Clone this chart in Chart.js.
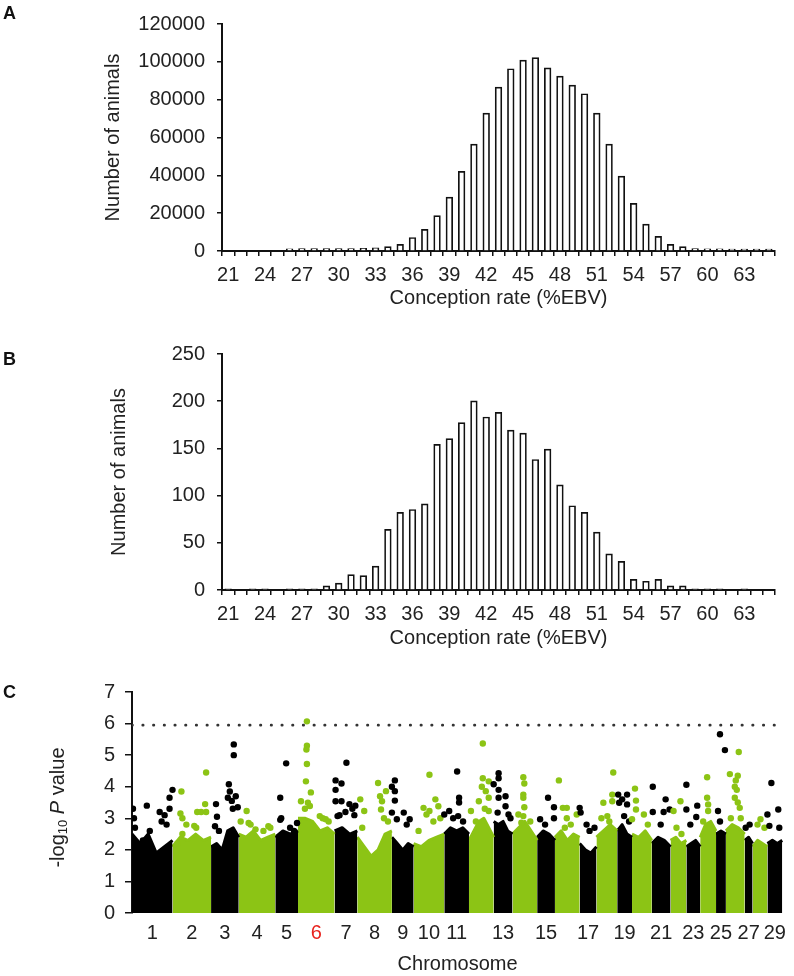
<!DOCTYPE html>
<html>
<head>
<meta charset="utf-8">
<script src="https://cdn.jsdelivr.net/npm/chart.js@4.4.1/dist/chart.umd.min.js"></script>
<style>
  body { margin: 0; background: #fff; }
  #page { position: relative; width: 794px; height: 976px; background: #fff; font-family: "Liberation Sans", Arial, sans-serif; }
  .panel { position: absolute; left: 0; width: 794px; }
  .tag { position: absolute; left: 3px; font-weight: bold; font-size: 18px; line-height: 18px; color: #111; }
</style>
</head>
<body>
<div id="page">
  <div class="panel" style="top:0;height:310px"><canvas id="chartA"></canvas></div>
  <div class="panel" style="top:330px;height:320px"><canvas id="chartB"></canvas></div>
  <div class="panel" style="top:670px;height:306px"><canvas id="chartC"></canvas></div>
  <div class="tag" style="top:4px">A</div>
  <div class="tag" style="top:350px">B</div>
  <div class="tag" style="top:683px">C</div>
</div>
<script>
// conception rate classes (%EBV)
const rateLabels = [21, 22, 23, 24, 25, 26, 27, 28, 29, 30, 31, 32, 33, 34, 35, 36, 37, 38, 39, 40,
  41, 42, 43, 44, 45, 46, 47, 48, 49, 50, 51, 52, 53, 54, 55, 56, 57, 58, 59, 60,
  61, 62, 63, 64, 65];
const rateTickLabels = [21, 24, 27, 30, 33, 36, 39, 42, 45, 48, 51, 54, 57, 60, 63];

// panel A: all animals
const herdCounts = [0, 0, 0, 0, 0, 1000, 1100, 1100, 1200, 1200, 1200, 1300, 1500, 2200, 3400, 7000, 11300, 18600, 28300, 42000,
  56400, 72800, 86500, 96200, 100800, 102100, 96700, 92300, 87600, 83000, 72800, 56400, 39500, 25000, 14100, 7600, 3400, 2200, 1200, 1000,
  1000, 900, 900, 900, 900];

// panel B: genotyped animals
const genotypedCounts = [1, 0, 1, 1, 0, 1, 1, 1, 4, 7, 16, 15, 25, 64, 82, 85, 91, 154, 160, 177,
  200, 183, 188, 169, 166, 138, 149, 111, 89, 82, 61, 38, 30, 11, 9, 11, 4, 4, 1, 1,
  1, 0, 1, 0, 0];

// panel C: manhattan plot
const chromosomes = ['1', '2', '3', '4', '5', '6', '7', '8', '9', '10', '11', '12', '13', '14', '15',
  '16', '17', '18', '19', '20', '21', '22', '23', '24', '25', '26', '27', '28', '29'];
const chromTickLabels = ['1', '2', '3', '4', '5', '6', '7', '8', '9', '10', '11', '13', '15', '17',
  '19', '21', '23', '25', '27', '29'];
const chromSpan = [41, 39, 28, 37, 23, 37, 23, 35, 22, 31, 25, 25, 19, 25, 18, 25, 17, 21, 15, 20,
  19, 16, 14, 16, 10, 19, 8, 15, 15];
// top of the dense SNP cloud along each chromosome
const chromBase = [
  [2.5, 2.2, 2.5, 1.9, 2.1, 2.3], [2.1, 2.4, 2.3, 2.5, 2.3, 2.4], [2.1, 2.2, 2.0, 2.6, 2.7, 2.4],
  [2.5, 2.4, 2.6, 2.3, 2.4, 2.5], [2.4, 2.6, 2.5, 2.6], [3.0, 3.0, 2.9, 2.6, 2.7, 2.5],
  [2.6, 2.7, 2.5, 2.6], [2.4, 2.1, 1.8, 2.0, 2.5, 2.6], [2.4, 2.2, 2.0, 2.2, 2.1],
  [2.2, 2.1, 2.3, 2.4, 2.5], [2.5, 2.7, 2.6, 2.7, 2.5], [2.3, 2.6, 2.9, 3.0, 2.7, 2.4],
  [2.9, 2.8, 2.9, 2.6, 2.5], [2.5, 2.7, 2.9, 2.6, 2.3], [2.4, 2.6, 2.5, 2.3],
  [2.4, 2.6, 2.3, 2.5, 2.4], [2.2, 2.0, 1.9, 2.1], [2.4, 2.6, 2.8, 2.6],
  [2.6, 2.8, 2.5, 2.4], [2.5, 2.4, 2.6, 2.3], [2.2, 2.4, 2.3, 2.1],
  [2.3, 2.4, 2.2, 2.3], [2.1, 2.2, 2.3, 2.1], [2.4, 2.8, 2.9, 2.6],
  [2.5, 2.6, 2.5], [2.6, 2.8, 2.7, 2.5], [2.3, 2.4, 2.2],
  [2.1, 2.3, 2.2, 2.1], [2.2, 2.3, 2.2, 2.3]
];
// single SNPs standing out above the cloud: [position within chromosome, -log10 P]
const chromHits = [
  [[1, 3.3], [2, 3.0], [3, 2.7], [15, 3.4], [11, 2.3], [18, 2.6], [28, 3.2], [30, 2.9], [33, 3.1], [35, 2.8], [38, 3.65], [38, 3.3], [41, 3.9]],
  [[9, 3.85], [8, 3.15], [10, 3.0], [10, 2.5], [5, 2.2], [14, 2.8], [22, 2.76], [24, 2.7], [25, 3.2], [29, 3.2], [33, 3.45], [34, 3.2], [34, 4.45]],
  [[5, 3.45], [6, 3.05], [4, 2.75], [8, 2.6], [17, 3.65], [18, 4.08], [19, 3.85], [21, 3.55], [22, 3.3], [23, 5.34], [23, 5.0], [25, 3.7], [27, 3.35]],
  [[2, 2.9], [8, 3.23], [10, 2.85], [12, 2.8], [17, 2.65], [25, 2.6], [30, 2.75], [32, 2.7]],
  [[5, 3.65], [6, 3.0], [5, 2.95], [11, 4.74], [15, 2.7], [19, 2.6], [22, 2.85]],
  [[9, 6.07], [9, 5.3], [8.5, 5.18], [9, 4.72], [8, 4.17], [13, 3.82], [3, 3.54], [10, 3.49], [12, 3.39], [7, 3.3], [22, 3.07], [25, 3.0], [28, 2.97], [31, 2.9]],
  [[1, 4.2], [1, 3.9], [7, 4.1], [12, 4.76], [1, 3.54], [7, 3.54], [3, 3.07], [5, 3.1], [11, 3.2], [15, 3.45], [18, 3.3], [21, 3.4], [20, 3.1]],
  [[3, 3.6], [7, 3.23], [5, 2.7], [21, 4.12], [23, 3.7], [25, 3.54], [29, 3.86], [24, 3.28], [27, 3.0], [31, 2.9]],
  [[0, 4.0], [3, 4.2], [3, 3.86], [3, 3.56], [0, 3.18], [5, 2.97], [12, 3.18], [18, 2.97], [15, 2.8]],
  [[16, 4.38], [22, 3.6], [10, 3.33], [16, 3.23], [25, 3.38], [13, 3.12], [5, 2.6], [20, 2.9], [27, 3.0]],
  [[13, 4.48], [5, 3.23], [0, 3.12], [15, 3.65], [15, 3.5], [14, 3.07], [19, 2.9], [9, 3.0]],
  [[14, 5.37], [14, 4.27], [20, 4.17], [13, 4.0], [17, 3.86], [20, 3.65], [20, 3.23], [2, 3.23], [10, 3.54], [7, 2.9], [16, 3.3]],
  [[5, 4.43], [5, 4.27], [0, 4.08], [5, 3.9], [12, 3.7], [5, 3.65], [12, 3.38], [4, 3.18], [15, 3.12], [17, 3.0]],
  [[11, 4.3], [12, 4.1], [11, 3.75], [11, 3.65], [12, 3.35], [11, 3.07], [6, 3.12], [9, 2.86], [18, 2.9]],
  [[11, 3.65], [17, 3.35], [17, 3.0], [3, 2.97], [8, 2.8]],
  [[4, 4.2], [8, 3.33], [10, 2.7], [12, 3.33], [12, 3.0], [22, 3.12], [16, 2.8]],
  [[0, 3.33], [1, 3.18], [7, 2.8], [15, 2.7], [10, 2.6]],
  [[17, 4.45], [16, 3.75], [16, 3.54], [7, 3.49], [11, 3.07], [5, 3.0], [13, 2.9]],
  [[1, 3.75], [10, 3.75], [5, 3.6], [10, 3.44], [2, 3.49], [7, 3.07], [12, 2.9]],
  [[3, 3.94], [4, 3.56], [4, 3.28], [12, 3.12], [0, 2.97], [16, 2.8]],
  [[1, 4.0], [14, 3.6], [1, 3.2], [12, 3.2], [18, 3.28], [9, 2.8]],
  [[3, 3.23], [10, 3.54], [6, 2.7], [11, 2.5]],
  [[0, 4.06], [0, 3.28], [11, 3.4], [10, 3.04], [4, 2.8]],
  [[7, 4.3], [7, 3.65], [8, 3.44], [8, 3.23], [3, 2.9]],
  [[4, 5.66], [9, 5.16], [2, 3.23], [4, 2.9]],
  [[13, 5.1], [4, 4.4], [12, 4.35], [10, 4.2], [9, 4.0], [11, 3.9], [9, 3.65], [12, 3.5], [14, 3.33], [15, 3.0], [5, 3.0]],
  [[1, 2.7], [5, 2.8]],
  [[8, 2.97], [5, 2.8], [12, 2.7]],
  [[4, 4.12], [0, 3.12], [11, 3.28], [12, 2.7], [2, 2.76]]
];
const threshold = 5.95;

const fontFamily = '"Liberation Sans", Arial, Helvetica, sans-serif';
const textFont = { family: fontFamily, size: 20 };
const ink = '#222';
const green = '#8cc415';

function drawHistogram(canvasId, counts, yMax, yStep, padTop, xHeight, titlePad) {
  return new Chart(document.getElementById(canvasId), {
    type: 'bar',
    data: {
      labels: rateLabels,
      datasets: [{
        data: counts,
        backgroundColor: '#fff',
        borderColor: '#111',
        borderWidth: 1.7,
        inflateAmount: 0.6,
        barPercentage: 0.5,
        categoryPercentage: 1,
      }],
    },
    options: {
      responsive: true,
      maintainAspectRatio: false,
      animation: false,
      layout: { padding: { top: padTop, right: 19, bottom: 0, left: 0 } },
      plugins: { legend: { display: false }, tooltip: { enabled: false } },
      scales: {
        x: {
          grid: { drawOnChartArea: false, tickLength: 5, color: '#111', lineWidth: 1.5 },
          border: { color: '#111', width: 2 },
          ticks: {
            autoSkip: false, maxRotation: 0, padding: 7, color: ink, font: textFont,
            callback: (v, i) => rateTickLabels.includes(rateLabels[i]) ? String(rateLabels[i]) : '',
          },
          title: { display: true, text: 'Conception rate (%EBV)', color: ink, font: textFont, padding: { top: 0, bottom: 0 } },
          afterFit: (s) => { s.height = xHeight; },
        },
        y: {
          min: 0,
          max: yMax,
          grid: { drawOnChartArea: false, tickLength: 5, color: '#111', lineWidth: 1.5 },
          border: { color: '#111', width: 2 },
          ticks: { stepSize: yStep, padding: 12, color: ink, font: textFont, callback: (v) => String(v) },
          title: { display: true, text: 'Number of animals', color: ink, font: textFont, padding: { top: titlePad, bottom: 0 } },
          afterFit: (s) => { s.width = 222; },
        },
      },
    },
  });
}

drawHistogram('chartA', herdCounts, 120000, 20000, 15, 59, 101);
drawHistogram('chartB', genotypedCounts, 250, 50, 23, 60, 107);

// manhattan plot
let pos = 0;
const chromStart = chromSpan.map((w) => { const s = pos; pos += w; return s; });
const genomeEnd = pos + 1;
const chromColor = (i) => (i % 2 === 0 ? '#000' : green);

const baseSets = chromBase.map((heights, i) => ({
  type: 'line',
  data: heights.map((h, j) => ({ x: chromStart[i] + j * chromSpan[i] / (heights.length - 1), y: h })),
  borderColor: chromColor(i),
  backgroundColor: chromColor(i),
  borderWidth: 3,
  borderJoinStyle: 'round',
  pointRadius: 0,
  fill: 'origin',
  tension: 0,
  order: 3,
}));

const hitPoints = [];
const hitColors = [];
chromHits.forEach((hits, i) => {
  hits.forEach(([p, v]) => {
    hitPoints.push({ x: chromStart[i] + p, y: v });
    hitColors.push(chromColor(i));
  });
});

const yTitlePlugin = {
  id: 'yTitle',
  afterDraw(chart) {
    const { ctx, chartArea } = chart;
    const parts = [
      { t: '-log', f: `20px ${fontFamily}`, dy: 0 },
      { t: '10', f: `13px ${fontFamily}`, dy: 5 },
      { t: ' ', f: `20px ${fontFamily}`, dy: 0 },
      { t: 'P', f: `italic 20px ${fontFamily}`, dy: 0 },
      { t: ' value', f: `20px ${fontFamily}`, dy: 0 },
    ];
    ctx.save();
    ctx.translate(58, (chartArea.top + chartArea.bottom) / 2 + 5);
    ctx.rotate(-Math.PI / 2);
    let total = 0;
    parts.forEach((p) => { ctx.font = p.f; p.w = ctx.measureText(p.t).width; total += p.w; });
    let x = -total / 2;
    ctx.fillStyle = ink;
    ctx.textBaseline = 'middle';
    parts.forEach((p) => { ctx.font = p.f; ctx.fillText(p.t, x, p.dy); x += p.w; });
    ctx.restore();
  },
};

new Chart(document.getElementById('chartC'), {
  type: 'scatter',
  data: {
    datasets: [
      {
        data: hitPoints,
        pointBackgroundColor: hitColors,
        pointBorderWidth: 0,
        pointRadius: 3.2,
        order: 1,
      },
      {
        type: 'line',
        data: [{ x: 0, y: threshold }, { x: genomeEnd, y: threshold }],
        borderColor: '#333',
        borderWidth: 2.6,
        borderDash: [0.5, 10.2],
        borderCapStyle: 'round',
        pointRadius: 0,
        fill: false,
        order: 2,
      },
      ...baseSets,
    ],
  },
  options: {
    responsive: true,
    maintainAspectRatio: false,
    animation: false,
    layout: { padding: { top: 20, right: 3, bottom: 0, left: 0 } },
    plugins: { legend: { display: false }, tooltip: { enabled: false } },
    scales: {
      x: {
        type: 'linear',
        min: 0,
        max: genomeEnd,
        afterBuildTicks: (s) => {
          s.ticks = chromosomes.map((c, i) => ({ value: chromStart[i] + chromSpan[i] / 2 }));
        },
        grid: { display: false, drawTicks: false },
        border: { display: false },
        ticks: {
          autoSkip: false, maxRotation: 0, padding: 8, font: textFont,
          color: (c) => (chromosomes[c.index] === '6' ? '#e8231e' : ink),
          callback: (v, i) => (chromTickLabels.includes(chromosomes[i]) ? chromosomes[i] : ''),
        },
        title: { display: true, text: 'Chromosome', color: ink, font: textFont, padding: { top: 0, bottom: 0 } },
        afterFit: (s) => { s.height = 63; },
      },
      y: {
        min: 0,
        max: 7,
        grid: { drawOnChartArea: false, tickLength: 7, color: '#111', lineWidth: 1.5 },
        border: { color: '#111', width: 2 },
        ticks: { stepSize: 1, padding: 10, color: ink, font: textFont },
        title: { display: false },
        afterFit: (s) => { s.width = 132; },
      },
    },
  },
  plugins: [yTitlePlugin],
});
</script>
</body>
</html>
